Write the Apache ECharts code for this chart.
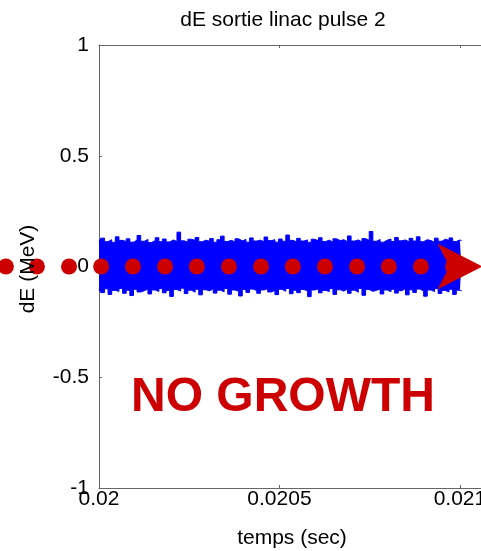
<!DOCTYPE html>
<html>
<head>
<meta charset="utf-8">
<script src="https://cdn.jsdelivr.net/npm/echarts@6/dist/echarts.min.js"></script>
<style>
  html, body { margin: 0; padding: 0; background: #fff; }
  #chart { width: 481px; height: 551px; }
</style>
</head>
<body>
<div id="chart"></div>
<script>
// dE at linac exit, pulse 2: noise envelope of the energy deviation (MeV)
const tStart = 0.02;          // first sample time (s)
const tStep = 1.005e-5;       // spacing of the envelope samples (s)
const dEUpper = [
  0.115,0.128,0.112,0.121,0.109,0.134,0.118,0.113,0.125,0.110,
  0.119,0.140,0.114,0.122,0.108,0.117,0.130,0.112,0.124,0.111,
  0.120,0.113,0.155,0.116,0.110,0.123,0.118,0.131,0.112,0.119,
  0.114,0.126,0.109,0.121,0.137,0.113,0.118,0.111,0.125,0.116,
  0.122,0.110,0.129,0.115,0.119,0.112,0.133,0.117,0.121,0.110,
  0.124,0.114,0.142,0.118,0.111,0.127,0.115,0.120,0.109,0.123,
  0.116,0.130,0.113,0.119,0.110,0.125,0.117,0.121,0.112,0.138,
  0.115,0.120,0.111,0.126,0.118,0.158,0.114,0.122,0.110,0.119,
  0.124,0.113,0.131,0.116,0.120,0.111,0.127,0.115,0.134,0.112,
  0.121,0.117,0.110,0.128,0.114,0.123,0.118,0.129,0.113,0.120,0.116
];
const dELower = [
  -0.104,-0.118,-0.101,-0.126,-0.108,-0.112,-0.099,-0.121,-0.107,-0.131,
  -0.103,-0.115,-0.109,-0.102,-0.124,-0.106,-0.113,-0.100,-0.119,-0.108,
  -0.135,-0.104,-0.111,-0.098,-0.122,-0.107,-0.116,-0.103,-0.128,-0.105,
  -0.110,-0.101,-0.120,-0.107,-0.114,-0.099,-0.125,-0.106,-0.112,-0.133,
  -0.104,-0.117,-0.102,-0.109,-0.121,-0.106,-0.100,-0.115,-0.108,-0.127,
  -0.103,-0.112,-0.099,-0.123,-0.107,-0.118,-0.104,-0.110,-0.136,-0.106,
  -0.101,-0.119,-0.108,-0.113,-0.100,-0.126,-0.105,-0.111,-0.102,-0.121,
  -0.107,-0.116,-0.099,-0.130,-0.104,-0.112,-0.108,-0.101,-0.124,-0.106,
  -0.114,-0.103,-0.120,-0.109,-0.100,-0.128,-0.105,-0.117,-0.102,-0.111,
  -0.134,-0.106,-0.113,-0.100,-0.122,-0.108,-0.115,-0.103,-0.126,-0.107,-0.110
];
// dotted trend line at dE = 0 and its arrow head
const trendTimes = [
  0.019742,0.019828,0.019917,0.020006,0.020094,0.020183,0.020271,0.020360,
  0.020449,0.020537,0.020626,0.020715,0.020803,0.020892,0.020981
];
const trendLevel = 0;
const arrowTime = 0.021;
const xTicks = [0.02, 0.0205, 0.021];
const yTicks = [-1, -0.5, 0, 0.5, 1];

const FONT = "'Liberation Sans', Arial, Helvetica, sans-serif";
const AXIS_GRAY = '#666666';
const RED = '#cc0000';
const BLUE = '#0000ff';

const upperPts = dEUpper.map((v, i) => [tStart + i * tStep, v]);
const lowerPts = dELower.map((v, i) => [tStart + i * tStep, v]);
const dotPts = trendTimes.map(t => [t, trendLevel]);

const fmtX = v => String(parseFloat(v.toFixed(6)));

const chart = echarts.init(document.getElementById('chart'), null, { renderer: 'canvas' });
chart.setOption({
  backgroundColor: '#ffffff',
  animation: false,
  // the axes box runs past the right edge of the page
  grid: { left: 99, top: 45, width: 397, height: 443, show: false, outerBoundsMode: 'none', containLabel: false },
  xAxis: [
    {
      type: 'value', position: 'bottom',
      min: xTicks[0], max: 0.0211, interval: 0.0005,
      axisLine: { show: true, onZero: false, lineStyle: { color: AXIS_GRAY, width: 1 } },
      axisTick: { show: true, inside: true, length: 3, lineStyle: { color: AXIS_GRAY } },
      axisLabel: { color: '#000', fontFamily: FONT, fontSize: 21, margin: 1, formatter: fmtX, hideOverlap: false },
      splitLine: { show: false }
    },
    {
      type: 'value', position: 'top',
      min: xTicks[0], max: 0.0211, interval: 0.0005,
      axisLine: { show: true, onZero: false, lineStyle: { color: AXIS_GRAY, width: 1 } },
      axisTick: { show: true, inside: true, length: 3, lineStyle: { color: AXIS_GRAY } },
      axisLabel: { show: false },
      splitLine: { show: false }
    }
  ],
  yAxis: {
    type: 'value',
    min: yTicks[0], max: yTicks[yTicks.length - 1], interval: 0.5,
    axisLine: { show: true, onZero: false, lineStyle: { color: AXIS_GRAY, width: 1 } },
    axisTick: { show: true, inside: true, length: 3, lineStyle: { color: AXIS_GRAY } },
    axisLabel: { color: '#000', fontFamily: FONT, fontSize: 21, margin: 10 },
    splitLine: { show: false }
  },
  series: [
    {
      // upper half of the band, filled slightly past zero so the halves overlap
      name: 'dE upper', type: 'line', data: upperPts, symbol: 'none', z: 2, step: 'middle',
      lineStyle: { color: BLUE, width: 1 },
      areaStyle: { color: BLUE, opacity: 1, origin: -0.03 }
    },
    {
      name: 'dE lower', type: 'line', data: lowerPts, symbol: 'none', z: 2, step: 'middle',
      lineStyle: { color: BLUE, width: 1 },
      areaStyle: { color: BLUE, opacity: 1, origin: 0.03 }
    },
    {
      name: 'trend', type: 'scatter', data: dotPts, clip: false, z: 3,
      symbol: 'circle', symbolSize: 16,
      itemStyle: { color: RED, opacity: 1 }
    },
    {
      name: 'trend head', type: 'scatter', data: [[arrowTime, trendLevel]], clip: false, z: 4,
      symbol: 'path://M0,0L45,23L0,46L12,23Z', symbolSize: [45, 46],
      itemStyle: { color: RED, opacity: 1 }
    }
  ],
  graphic: [
    {
      type: 'text', x: 283, y: 20, z: 10,
      style: { text: 'dE sortie linac pulse 2', font: `21px ${FONT}`, fill: '#000', align: 'center', verticalAlign: 'middle' }
    },
    {
      type: 'text', x: 292, y: 538, z: 10,
      style: { text: 'temps (sec)', font: `21px ${FONT}`, fill: '#000', align: 'center', verticalAlign: 'middle' }
    },
    {
      type: 'text', x: 28, y: 269, rotation: Math.PI / 2, z: 10,
      style: { text: 'dE (MeV)', font: `21px ${FONT}`, fill: '#000', align: 'center', verticalAlign: 'middle' }
    },
    {
      type: 'text', x: 131, y: 398, z: 10,
      style: { text: 'NO GROWTH', font: `bold 48px ${FONT}`, fill: RED, align: 'left', verticalAlign: 'middle' }
    }
  ]
});
</script>
</body>
</html>
